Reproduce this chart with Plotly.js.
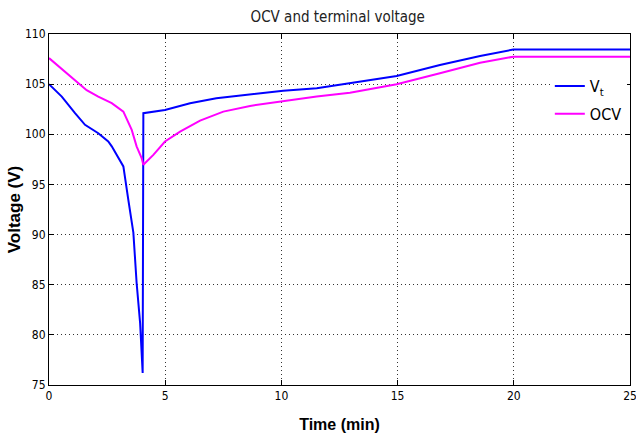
<!DOCTYPE html>
<html>
<head>
<meta charset="utf-8">
<script src="https://cdn.plot.ly/plotly-3.0.1.min.js"></script>
<style>
  html, body { margin: 0; padding: 0; background: #fff; }
  #chart { width: 636px; height: 439px; }
</style>
</head>
<body>
<div id="chart"></div>
<script>
// Time axis (minutes) and voltages (V)
const timeVt = [0, 0.55, 1.12, 1.55, 2.12, 2.55, 2.7, 3.2, 3.41, 3.63, 3.77, 3.92, 4.03, 4.06, 4.99, 6.07, 7.2, 8.65, 10.08, 11.52, 12.95, 14.96, 16.82, 18.55, 19.98, 25];
const voltVt = [105.0, 103.76, 102.1, 100.94, 100.1, 99.28, 98.8, 96.8, 93.5, 90.2, 85.2, 81.2, 76.2, 102.1, 102.43, 103.1, 103.6, 104.0, 104.35, 104.6, 105.09, 105.82, 106.91, 107.8, 108.45, 108.45];

const timeOcv = [0, 0.69, 1.26, 1.62, 2.12, 2.7, 3.2, 3.56, 3.77, 3.99, 4.06, 4.49, 4.99, 5.64, 6.5, 7.5, 8.65, 10.08, 11.52, 12.95, 14.96, 16.82, 18.55, 19.98, 25];
const voltOcv = [107.6, 106.24, 105.1, 104.4, 103.75, 103.1, 102.26, 100.44, 98.8, 97.6, 96.96, 97.95, 99.28, 100.27, 101.37, 102.26, 102.83, 103.33, 103.76, 104.15, 104.99, 106.08, 107.14, 107.74, 107.74];

const xTicks = [0, 5, 10, 15, 20, 25];
const yTicks = [75, 80, 85, 90, 95, 100, 105, 110];

const narrow = '"DejaVu Sans Condensed", "Liberation Sans Narrow", "Arial Narrow", sans-serif';
const bold = '"Liberation Sans", Arial, sans-serif';

const traces = [
  { x: timeVt, y: voltVt, mode: 'lines', name: 'V<sub>t</sub>', legendgroup: 'vt',
    line: { color: '#0000FF', width: 2 } },
  { x: timeOcv, y: voltOcv, mode: 'lines', name: 'OCV', legendgroup: 'ocv',
    line: { color: '#FF00FF', width: 2 } }
];

const axisCommon = {
  showline: true, linecolor: '#000', linewidth: 1, mirror: 'allticks',
  ticks: 'inside', ticklen: 5, tickcolor: '#000',
  showgrid: true, gridcolor: '#333', griddash: '1px,3px', gridwidth: 1,
  zeroline: false, ticklabeloverflow: 'allow',
  tickfont: { family: narrow, size: 12, color: '#000' }
};

const layout = {
  width: 636, height: 439,
  margin: { l: 49, r: 6, t: 34, b: 54 },
  paper_bgcolor: '#fff', plot_bgcolor: '#fff',
  title: { text: 'OCV and terminal voltage', x: 0.531, xanchor: 'center', y: 0.962, yanchor: 'middle',
           font: { family: narrow, size: 15, color: '#222' } },
  xaxis: Object.assign({}, axisCommon, {
    range: [0, 25], tickvals: xTicks, ticktext: xTicks.map(String),
    title: { text: 'Time (min)', standoff: 16, font: { family: bold, size: 16, color: '#000', weight: 'bold' } }
  }),
  yaxis: Object.assign({}, axisCommon, {
    range: [75, 110], tickvals: yTicks, ticktext: yTicks.map(String),
    title: { text: 'Voltage (V)', standoff: 0, font: { family: bold, size: 17, color: '#000', weight: 'bold' } }
  }),
  legend: {
    x: 0.862, y: 0.9, xanchor: 'left', yanchor: 'top',
    bgcolor: '#fff', borderwidth: 0,
    font: { family: narrow, size: 16, color: '#000' },
    itemwidth: 30, traceorder: 'grouped', tracegroupgap: 4
  },
  showlegend: true
};

Plotly.newPlot('chart', traces, layout, { staticPlot: true, displayModeBar: false });
</script>
</body>
</html>
